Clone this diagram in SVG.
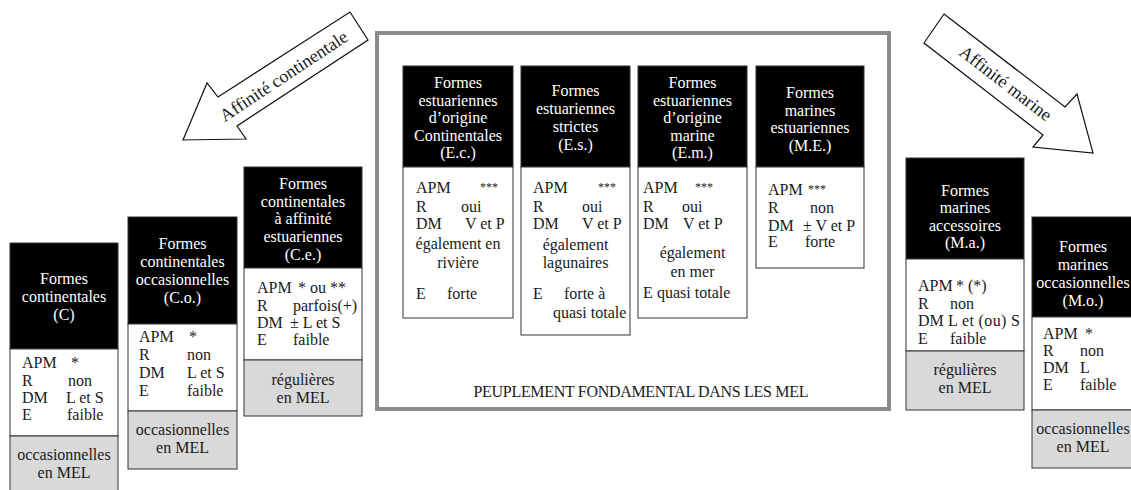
<svg xmlns="http://www.w3.org/2000/svg" width="1131" height="490" viewBox="0 0 1131 490" font-family="'Liberation Serif','Times New Roman',serif">
<style>
text{font-family:"Liberation Serif","Times New Roman",serif;font-size:16px;fill:#1a1a1a}
.h{fill:#000;stroke:#333;stroke-width:1}
.w{fill:#fff;stroke:#333;stroke-width:1}
.g{fill:#d9d9d9;stroke:#333;stroke-width:1}
.ht{fill:#fff;text-anchor:middle}
.c{text-anchor:middle}
.s{font-size:12px}
.arrow{fill:#fff;stroke:#111;stroke-width:1.2}
.at{font-size:18px}
</style>
<rect width="1131" height="490" fill="#fff"/>

<g id="frame">
<rect x="377" y="33" width="512" height="376" fill="none" stroke="#8c8c8c" stroke-width="4"/>
<text x="641" y="397" class="c" font-size="15.5" textLength="335">PEUPLEMENT FONDAMENTAL DANS LES MEL</text>
</g>

<g id="connectors">
<polygon class="arrow" points="183,140 207,83 218,97 350,12 368,40 237,126 246,139"/>
<text class="at c" x="287" y="81" transform="rotate(-33.5 287 81)">Affinité continentale</text>
<polygon class="arrow" points="944,14 1065,107 1077,94 1093,153 1033,147 1043,135 924,43"/>
<text class="at c" x="1002" y="88" transform="rotate(37.5 1002 88)">Affinité marine</text>
</g>

<g id="node-C">
<rect class="h" x="10" y="243" width="108" height="106"/>
<rect class="w" x="10" y="349" width="108" height="87"/>
<rect class="g" x="10" y="436" width="108" height="56"/>
<text class="ht" x="64" y="284">Formes</text>
<text class="ht" x="64" y="302">continentales</text>
<text class="ht" x="64" y="320">(C)</text>
<text x="22" y="368">APM</text><text x="71" y="368">*</text>
<text x="22" y="386">R</text><text x="68" y="386">non</text>
<text x="22" y="403">DM</text><text x="66" y="403">L et S</text>
<text x="22" y="420">E</text><text x="67" y="420">faible</text>
<text class="c" x="64" y="460">occasionnelles</text>
<text class="c" x="64" y="478">en MEL</text>
</g>

<g id="node-Co">
<rect class="h" x="128" y="217" width="109" height="107"/>
<rect class="w" x="128" y="324" width="109" height="87"/>
<rect class="g" x="128" y="411" width="109" height="58"/>
<text class="ht" x="182.5" y="249">Formes</text>
<text class="ht" x="182.5" y="267">continentales</text>
<text class="ht" x="182.5" y="285">occasionnelles</text>
<text class="ht" x="182.5" y="303">(C.o.)</text>
<text x="139" y="342">APM</text><text x="189" y="342">*</text>
<text x="139" y="360">R</text><text x="187" y="360">non</text>
<text x="139" y="378">DM</text><text x="187" y="378">L et S</text>
<text x="139" y="396">E</text><text x="187" y="396">faible</text>
<text class="c" x="182.5" y="435">occasionnelles</text>
<text class="c" x="182.5" y="453">en MEL</text>
</g>

<g id="node-Ce">
<rect class="h" x="244" y="167" width="118" height="101"/>
<rect class="w" x="244" y="268" width="118" height="92"/>
<rect class="g" x="244" y="360" width="118" height="56"/>
<text class="ht" x="303" y="189">Formes</text>
<text class="ht" x="303" y="207">continentales</text>
<text class="ht" x="303" y="224">à affinité</text>
<text class="ht" x="303" y="242">estuariennes</text>
<text class="ht" x="303" y="260">(C.e.)</text>
<text x="257" y="293">APM</text><text x="298" y="293">* ou **</text>
<text x="257" y="311">R</text><text x="293" y="311">parfois(+)</text>
<text x="257" y="328">DM</text><text x="290" y="328">± L et S</text>
<text x="257" y="345">E</text><text x="293" y="345">faible</text>
<text class="c" x="303" y="385">régulières</text>
<text class="c" x="303" y="403">en MEL</text>
</g>

<g id="node-Ec">
<rect class="h" x="403" y="66" width="110" height="101"/>
<rect class="w" x="403" y="167" width="110" height="151"/>
<text class="ht" x="458" y="88">Formes</text>
<text class="ht" x="458" y="106">estuariennes</text>
<text class="ht" x="458" y="123">d’origine</text>
<text class="ht" x="458" y="141">Continentales</text>
<text class="ht" x="458" y="158">(E.c.)</text>
<text x="416" y="193">APM</text><text class="s" x="480" y="191">***</text>
<text x="416" y="212">R</text><text x="461" y="212">oui</text>
<text x="416" y="229">DM</text><text x="465" y="229">V et P</text>
<text class="c" x="458" y="249">également en</text>
<text class="c" x="458" y="268">rivière</text>
<text x="416" y="299">E</text><text x="447" y="299">forte</text>
</g>

<g id="node-Es">
<rect class="h" x="521" y="66" width="109" height="101"/>
<rect class="w" x="521" y="167" width="109" height="168"/>
<text class="ht" x="575.5" y="96">Formes</text>
<text class="ht" x="575.5" y="114">estuariennes</text>
<text class="ht" x="575.5" y="132">strictes</text>
<text class="ht" x="575.5" y="150">(E.s.)</text>
<text x="533" y="193">APM</text><text class="s" x="598" y="191">***</text>
<text x="533" y="212">R</text><text x="582" y="212">oui</text>
<text x="533" y="229">DM</text><text x="582" y="229">V et P</text>
<text class="c" x="575.5" y="250">également</text>
<text class="c" x="575.5" y="268">lagunaires</text>
<text x="533" y="299">E</text><text x="564" y="299">forte à</text>
<text x="553" y="318">quasi totale</text>
</g>

<g id="node-Em">
<rect class="h" x="638" y="66" width="109" height="101"/>
<rect class="w" x="638" y="167" width="109" height="151"/>
<text class="ht" x="692.5" y="88">Formes</text>
<text class="ht" x="692.5" y="106">estuariennes</text>
<text class="ht" x="692.5" y="123">d’origine</text>
<text class="ht" x="692.5" y="141">marine</text>
<text class="ht" x="692.5" y="158">(E.m.)</text>
<text x="643" y="193">APM</text><text class="s" x="695" y="191">***</text>
<text x="643" y="212">R</text><text x="682" y="212">oui</text>
<text x="643" y="229">DM</text><text x="683" y="229">V et P</text>
<text class="c" x="692.5" y="258">également</text>
<text class="c" x="692.5" y="277">en mer</text>
<text x="643" y="298">E</text><text x="657" y="298">quasi totale</text>
</g>

<g id="node-ME">
<rect class="h" x="756" y="66" width="108" height="101"/>
<rect class="w" x="756" y="167" width="108" height="101"/>
<text class="ht" x="810" y="98">Formes</text>
<text class="ht" x="810" y="116">marines</text>
<text class="ht" x="810" y="133">estuariennes</text>
<text class="ht" x="810" y="151">(M.E.)</text>
<text x="768" y="195">APM</text><text class="s" x="808" y="193">***</text>
<text x="768" y="213">R</text><text x="810" y="213">non</text>
<text x="768" y="231">DM</text><text x="803" y="231">± V et P</text>
<text x="768" y="247">E</text><text x="805" y="247">forte</text>
</g>

<g id="node-Ma">
<rect class="h" x="906" y="158" width="118" height="101"/>
<rect class="w" x="906" y="259" width="118" height="92"/>
<rect class="g" x="906" y="351" width="118" height="59"/>
<text class="ht" x="965" y="196">Formes</text>
<text class="ht" x="965" y="213">marines</text>
<text class="ht" x="965" y="231">accessoires</text>
<text class="ht" x="965" y="248">(M.a.)</text>
<text x="918" y="291">APM</text><text x="956" y="291">* (*)</text>
<text x="918" y="309">R</text><text x="950" y="309">non</text>
<text x="918" y="326">DM</text><text x="948" y="326" textLength="72">L et (ou) S</text>
<text x="918" y="344">E</text><text x="950" y="344">faible</text>
<text class="c" x="965" y="375">régulières</text>
<text class="c" x="965" y="393">en MEL</text>
</g>

<g id="node-Mo">
<rect class="h" x="1032" y="217" width="110" height="100"/>
<rect class="w" x="1032" y="317" width="110" height="93"/>
<rect class="g" x="1032" y="410" width="110" height="58"/>
<text class="ht" x="1083" y="252">Formes</text>
<text class="ht" x="1083" y="270">marines</text>
<text class="ht" x="1083" y="288">occasionnelles</text>
<text class="ht" x="1083" y="306">(M.o.)</text>
<text x="1043" y="339">APM</text><text x="1085" y="339">*</text>
<text x="1043" y="356">R</text><text x="1080" y="356">non</text>
<text x="1043" y="373">DM</text><text x="1080" y="373">L</text>
<text x="1043" y="390">E</text><text x="1080" y="390">faible</text>
<text class="c" x="1083" y="434">occasionnelles</text>
<text class="c" x="1083" y="452">en MEL</text>
</g>
</svg>
